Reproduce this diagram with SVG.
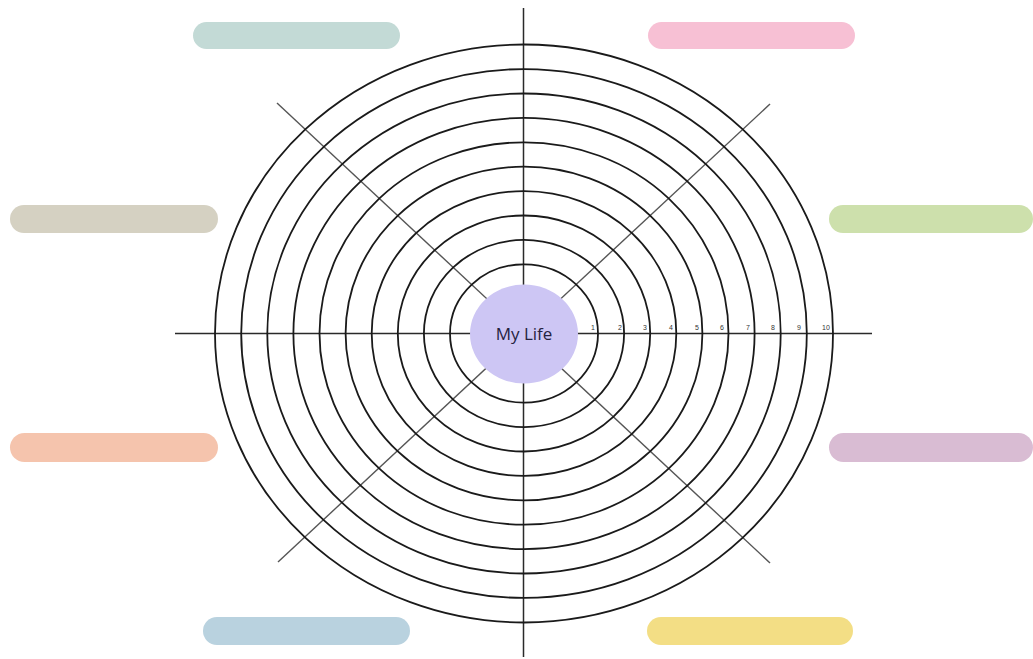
<svg xmlns="http://www.w3.org/2000/svg" width="1033" height="659" viewBox="0 0 1033 659">
<style>
.ring{fill:none;stroke:#1a1a1a;stroke-width:1.8}
.axis{stroke:#2a2a2a;stroke-width:1.5}
.diag{stroke:#555;stroke-width:1.4}
.tick{font-family:"Liberation Sans",Arial,sans-serif;font-size:7px;fill:#333;text-anchor:middle}
.pill{stroke:none}
</style>
<rect width="1033" height="659" fill="#ffffff"/>
<g id="pills">
<rect id="pill-tl" class="pill" x="193" y="22" width="207" height="27" rx="13.5" fill="#c3dad6"/>
<rect id="pill-tr" class="pill" x="648" y="22" width="207" height="27" rx="13.5" fill="#f7c0d4"/>
<rect id="pill-ml" class="pill" x="10" y="205" width="208" height="28" rx="14" fill="#d5d1c2"/>
<rect id="pill-mr" class="pill" x="829" y="205" width="204" height="28" rx="14" fill="#cde0ac"/>
<rect id="pill-ll" class="pill" x="10" y="433" width="208" height="29" rx="14.5" fill="#f5c4ad"/>
<rect id="pill-lr" class="pill" x="829" y="433" width="204" height="29" rx="14.5" fill="#d9bcd3"/>
<rect id="pill-bl" class="pill" x="203" y="617" width="207" height="28" rx="14" fill="#b9d2df"/>
<rect id="pill-br" class="pill" x="647" y="617" width="206" height="28" rx="14" fill="#f3de85"/>
</g>
<g id="connectors">
<line class="diag" x1="277" y1="103" x2="770" y2="563"/>
<line class="diag" x1="770" y1="104" x2="278" y2="562"/>
<line class="axis" x1="175" y1="333.5" x2="872" y2="333.5"/>
<line class="axis" x1="523.5" y1="8" x2="523.5" y2="657"/>
</g>
<g id="rings">
<ellipse class="ring" cx="524" cy="333.5" rx="74" ry="69.2"/>
<ellipse class="ring" cx="524" cy="333.5" rx="100.1" ry="93.6"/>
<ellipse class="ring" cx="524" cy="333.5" rx="126.2" ry="118"/>
<ellipse class="ring" cx="524" cy="333.5" rx="152.3" ry="142.4"/>
<ellipse class="ring" cx="524" cy="333.5" rx="178.4" ry="166.8"/>
<ellipse class="ring" cx="524" cy="333.5" rx="204.5" ry="191.2"/>
<ellipse class="ring" cx="524" cy="333.5" rx="230.6" ry="215.6"/>
<ellipse class="ring" cx="524" cy="333.5" rx="256.7" ry="240"/>
<ellipse class="ring" cx="524" cy="333.5" rx="282.8" ry="264.4"/>
<ellipse class="ring" cx="524" cy="333.5" rx="309" ry="289"/>
</g>
<g id="ticks">
<text class="tick" x="593" y="330">1</text>
<text class="tick" x="620" y="330">2</text>
<text class="tick" x="645" y="330">3</text>
<text class="tick" x="671" y="330">4</text>
<text class="tick" x="697" y="330">5</text>
<text class="tick" x="722" y="330">6</text>
<text class="tick" x="748" y="330">7</text>
<text class="tick" x="773" y="330">8</text>
<text class="tick" x="799" y="330">9</text>
<text class="tick" x="826" y="330">10</text>
</g>
<g id="center">
<ellipse cx="524" cy="334" rx="54" ry="49.5" fill="#cdc6f4"/>
<text x="524" y="340" font-family="'Open Sans','Noto Sans',sans-serif" font-size="17" fill="#25223f" text-anchor="middle">My Life</text>
</g>
</svg>
